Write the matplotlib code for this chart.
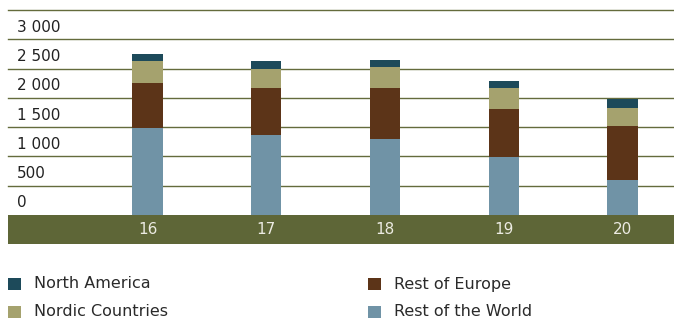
import matplotlib.pyplot as plt
from matplotlib.patches import Rectangle
import matplotlib.transforms as mtransforms

years = ["16", "17", "18", "19", "20"]
rest_of_world = [1490, 1370, 1300, 995, 600]
rest_of_europe = [755, 790, 860, 820, 910]
nordic = [378, 325, 360, 345, 310]
north_america = [120, 137, 120, 120, 155]
y_ticks = [0, 500, 1000, 1500, 2000, 2500, 3000]
y_tick_labels = ["0", "500", "1 000", "1 500", "2 000", "2 500", "3 000"]

OLIVE = "#5e6637"
colors = {
    "North America": "#1d4a5a",
    "Nordic Countries": "#a5a26e",
    "Rest of Europe": "#5c3418",
    "Rest of the World": "#7093a6",
}

fig = plt.figure(figsize=(6.74, 3.21), dpi=100)
W, H = 674, 321
ax = fig.add_axes([8 / W, (H - 244) / H, 1 - 8 / W, (244 - 10) / H])
ax.set_xlim(-1.175, 4.434)
ax.set_ylim(-500, 3500)
ax.axis("off")

# olive band under the bars carrying the year labels
ax.axhspan(-500, 0, color=OLIVE, lw=0, zorder=1)
for v in range(500, 3501, 500):
    ax.axhline(v, color="#646b3c", lw=1.0, zorder=1, clip_on=False)

x = list(range(len(years)))
bw = 0.255
bottom = [0] * len(years)
stack = [
    ("Rest of the World", rest_of_world),
    ("Rest of Europe", rest_of_europe),
    ("Nordic Countries", nordic),
    ("North America", north_america),
]
for name, vals in stack:
    ax.bar(x, vals, bw, bottom=bottom, color=colors[name], lw=0, zorder=2)
    bottom = [b + v for b, v in zip(bottom, vals)]

for xi, yr in zip(x, years):
    ax.text(xi, -250, yr, color="#ecebe2", fontsize=11, ha="center", va="center", zorder=3)

trans = mtransforms.blended_transform_factory(fig.transFigure, ax.transData)
for v, lab in zip(y_ticks, y_tick_labels):
    ax.text(17 / W, v + 205, lab, transform=trans, color="#222222", fontsize=11,
            ha="left", va="center")

# legend drawn by hand: two columns of square swatches
legend_items = [
    ("North America", 8, 284),
    ("Nordic Countries", 8, 312),
    ("Rest of Europe", 368, 284),
    ("Rest of the World", 368, 312),
]
for name, px, py in legend_items:
    fig.patches.append(Rectangle((px / W, (H - py - 6) / H), 13 / W, 12 / H,
                                 transform=fig.transFigure, color=colors[name], lw=0))
    fig.text((px + 26) / W, (H - py) / H, name, fontsize=11.5, color="#2a2a2a",
             ha="left", va="center")

fig.savefig("out.png", dpi=100)
